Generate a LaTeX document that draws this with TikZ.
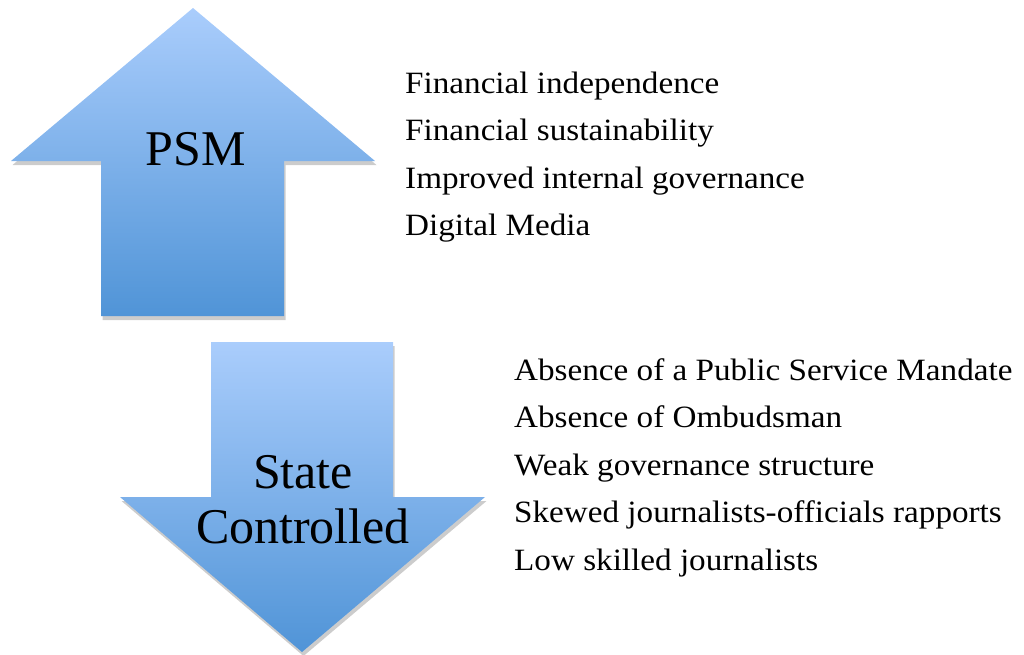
\documentclass[tikz,border=0pt]{standalone}
\usepackage{fontspec}
\setmainfont{Liberation Serif}[FakeStretch=1.07]
\newfontfamily\labelfont{Liberation Serif}
\usetikzlibrary{shadows}
\definecolor{arrtop}{RGB}{170,205,252}
\definecolor{arrbot}{RGB}{80,148,215}
\tikzset{
  bigarrow/.style={top color=arrtop, bottom color=arrbot, draw=none,
    drop shadow={shadow xshift=1.5pt, shadow yshift=-4pt, opacity=0.2, fill=black}},
  item/.style={anchor=base west, inner sep=0pt, font=\fontsize{31}{31}\selectfont},
  label/.style={anchor=base, inner sep=0pt, font=\labelfont\fontsize{50}{50}\selectfont}
}
\begin{document}
\begin{tikzpicture}[x=1pt,y=-1pt]
\useasboundingbox (0,0) rectangle (1024,654);
% up arrow
\path[bigarrow] (193,8) -- (375,161) -- (284,161) -- (284,316) -- (101,316) -- (101,161) -- (11,161) -- cycle;
% down arrow
\path[bigarrow] (211,342) -- (393,342) -- (393,497) -- (485,497) -- (302,652) -- (120,497) -- (211,497) -- cycle;
\node[label] (psm) at (196,165) {PSM};
\node[label] (state) at (303,488) {State};
\node[label] (ctrl) at (303,543) {Controlled};
\node[item] (u1) at (405,93) {Financial independence};
\node[item] (u2) at (405,140) {Financial sustainability};
\node[item] (u3) at (405,188) {Improved internal governance};
\node[item] (u4) at (405,235) {Digital Media};
\node[item] (d1) at (514,380) {Absence of a Public Service Mandate};
\node[item] (d2) at (514,427) {Absence of Ombudsman};
\node[item] (d3) at (514,475) {Weak governance structure};
\node[item] (d4) at (514,522) {Skewed journalists-officials rapports};
\node[item] (d5) at (514,570) {Low skilled journalists};
\end{tikzpicture}
\end{document}
